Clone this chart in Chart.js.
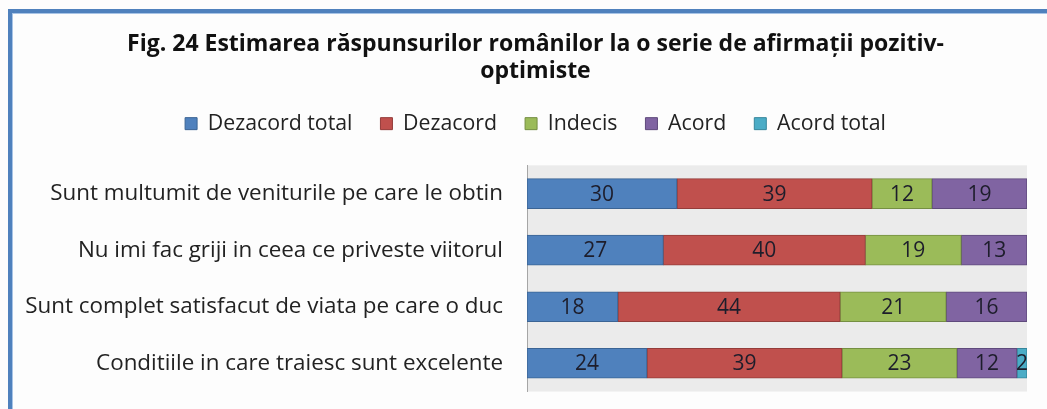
<!DOCTYPE html>
<html>
<head>
<meta charset="utf-8">
<script src="https://cdn.jsdelivr.net/npm/chart.js@4.4.1/dist/chart.umd.min.js"></script>
<style>
  html, body { margin: 0; padding: 0; background: #fdfdfd; }
  #wrap { position: relative; width: 1047px; height: 409px; overflow: hidden; }
  #frame {
    position: absolute; left: 8px; top: 9px; width: 1100px; height: 500px;
    border-top: 4px solid #4f81bd; border-left: 4px solid #4f81bd;
    box-shadow: inset 1px 1px 0 #a8c4e6;
  }
  #chart { position: absolute; left: 0; top: 0; }
</style>
</head>
<body>
<div id="wrap">
  <div id="frame"></div>
  <canvas id="chart" width="1047" height="409"></canvas>
</div>
<script>
// -------- Data --------
const statements = [
  "Sunt multumit de veniturile pe care le obtin",
  "Nu imi fac griji in ceea ce priveste viitorul",
  "Sunt complet satisfacut de viata pe care o duc",
  "Conditiile in care traiesc sunt excelente"
];
const seriesNames = ["Dezacord total", "Dezacord", "Indecis", "Acord", "Acord total"];
const dezacordTotal = [30, 27, 18, 24];
const dezacord      = [39, 40, 44, 39];
const indecis       = [12, 19, 21, 23];
const acord         = [19, 13, 16, 12];
const acordTotal    = [0, 0, 0, 2];

const fills   = ["#4f81bd", "#c0504d", "#9bbb59", "#8064a2", "#4bacc6"];
const borders = ["#3b6494", "#943c3a", "#758f42", "#5f4a7c", "#36869b"];
const FONT = "'Open Sans', sans-serif";

// 100% stacked, like the original: each row is shown as share of its total
const raw = [dezacordTotal, dezacord, indecis, acord, acordTotal];
const totals = statements.map((_, i) => raw.reduce((s, arr) => s + arr[i], 0));

const datasets = raw.map((arr, k) => ({
  label: seriesNames[k],
  data: arr.map((v, i) => v / totals[i] * 100),
  rawValues: arr,
  backgroundColor: fills[k],
  borderColor: borders[k],
  borderWidth: 1,
  borderSkipped: false,
  barThickness: 30
}));

// -------- Plugins --------
const plotBg = {
  id: "plotBg",
  beforeDraw(chart) {
    const { ctx, chartArea: a } = chart;
    ctx.save();
    ctx.fillStyle = "#ebebeb";
    ctx.fillRect(a.left, a.top, a.right - a.left, a.bottom - a.top);
    ctx.restore();
  }
};

const barLabels = {
  id: "barLabels",
  afterDatasetsDraw(chart) {
    const ctx = chart.ctx;
    ctx.save();
    ctx.font = "21px " + FONT;
    ctx.fillStyle = "#1d1d2b";
    ctx.textAlign = "center";
    ctx.textBaseline = "middle";
    chart.data.datasets.forEach((ds, k) => {
      chart.getDatasetMeta(k).data.forEach((el, i) => {
        const v = ds.rawValues[i];
        if (!v) return;
        ctx.fillText(String(v), (el.x + el.base) / 2, el.y + 1);
      });
    });
    ctx.restore();
  }
};

const legendSpace = {
  id: "legendSpace",
  beforeInit(chart) {
    const fit = chart.legend.fit;
    chart.legend.fit = function () {
      fit.bind(chart.legend)();
      this.height += 21;
    };
  }
};

// title + legend sit a bit right of the canvas centre in the original
const shiftHeader = {
  id: "shiftHeader",
  afterLayout(chart) {
    [chart.titleBlock, chart.legend].forEach(b => {
      if (!b) return;
      b.left += 12;
      b.right += 12;
    });
  }
};

// -------- Chart --------
new Chart(document.getElementById("chart"), {
  type: "bar",
  data: { labels: statements, datasets },
  plugins: [plotBg, barLabels, legendSpace, shiftHeader],
  options: {
    indexAxis: "y",
    responsive: false,
    animation: false,
    layout: { padding: { left: 20, right: 20, top: 0, bottom: 15 } },
    scales: {
      x: {
        stacked: true, min: 0, max: 100, display: false
      },
      y: {
        stacked: true,
        grid: { display: false, drawTicks: true, tickLength: 20 },
        border: { display: true, color: "#a6a6a6", width: 1 },
        ticks: {
          color: "#222",
          font: { family: FONT, size: 22.4 },
          padding: 4
        },
        afterFit(scale) { scale.width = 507; }
      }
    },
    plugins: {
      tooltip: { enabled: false },
      title: {
        display: true,
        text: ["Fig. 24 Estimarea răspunsurilor românilor la o serie de afirmații pozitiv-", "optimiste"],
        color: "#111",
        font: { family: FONT, size: 23, weight: "bold", lineHeight: 1.174 },
        padding: { top: 31, bottom: 0 }
      },
      legend: {
        display: true,
        position: "top",
        labels: {
          color: "#222",
          font: { family: FONT, size: 21.3 },
          boxWidth: 12,
          boxHeight: 12,
          padding: 28
        }
      }
    }
  }
});
</script>
</body>
</html>
